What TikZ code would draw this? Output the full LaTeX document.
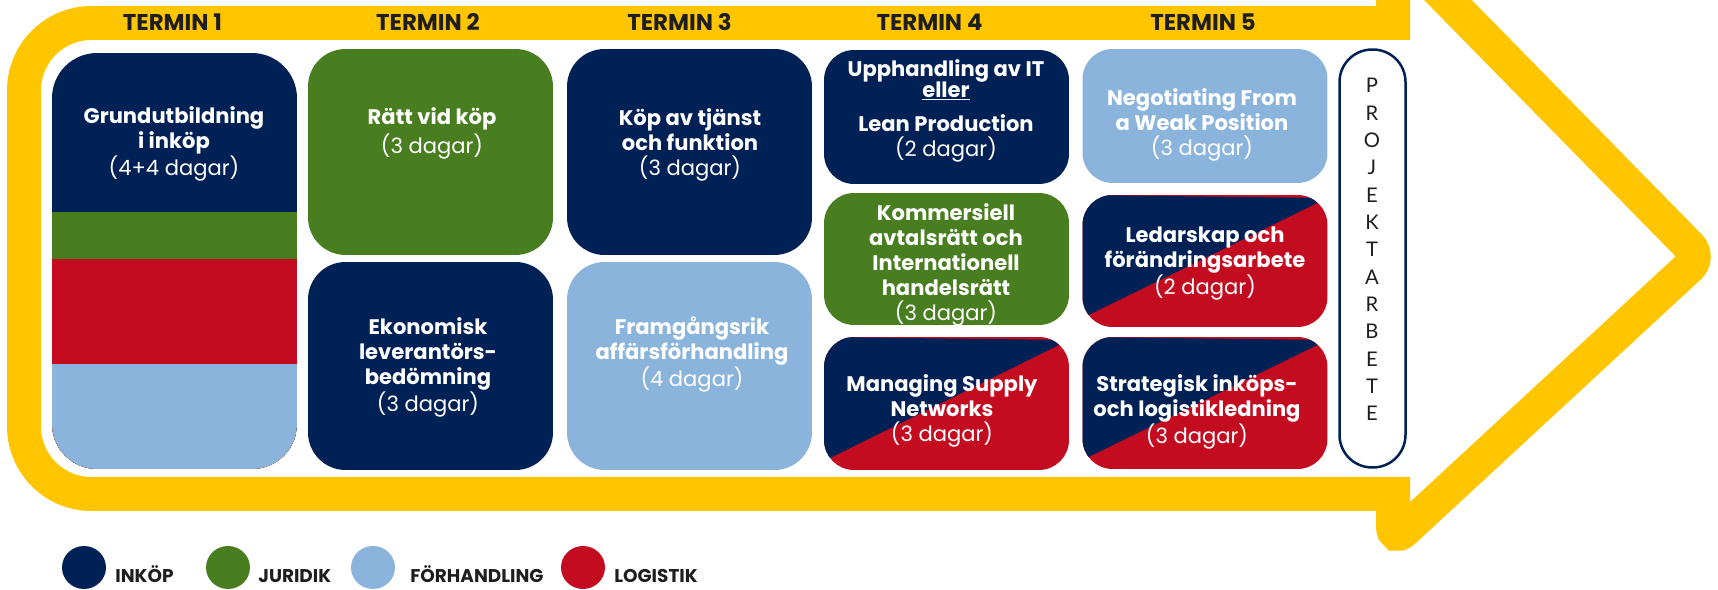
\documentclass[tikz,border=0pt]{standalone}
\usepackage{fontspec}
\setmainfont{Poppins}
\newfontfamily\bokstavfont{Lato}
\usetikzlibrary{shapes.geometric}

\definecolor{inkop}{RGB}{0,33,85}
\definecolor{juridik}{RGB}{72,126,32}
\definecolor{forhandling}{RGB}{139,180,220}
\definecolor{logistik}{RGB}{196,12,33}
\definecolor{pilgul}{RGB}{255,198,0}
\definecolor{textgra}{RGB}{30,30,30}

\tikzset{
  kurs/.style={rounded corners=0.75cm, minimum width=4.9cm, inner sep=0pt},
  liten/.style={kurs, rounded corners=0.6cm},
  delad/.style={fill=logistik, path picture={
      \fill[inkop, sharp corners] ([yshift=0.18cm]path picture bounding box.south west)
        -- ([yshift=-0.06cm]path picture bounding box.north east)
        -- (path picture bounding box.north west) -- cycle;}},
  kurstext/.style={text=white, align=center, inner sep=0pt, anchor=north,
    font=\bfseries\fontsize{12}{14.2}\selectfont},
  rubrik/.style={anchor=base, text=textgra, inner sep=0pt,
    font=\bfseries\fontsize{13}{15}\selectfont},
  bokstav/.style={anchor=base, text=textgra, inner sep=0pt,
    font=\bokstavfont\fontsize{11.5}{12}\selectfont},
  prick/.style={ellipse, minimum width=0.88cm, minimum height=0.86cm, inner sep=0pt},
  legtext/.style={anchor=base west, text=textgra, inner sep=0pt,
    font=\bfseries\fontsize{10.5}{12}\selectfont}
}

\begin{document}
\begin{tikzpicture}[x=0.02cm, y=-0.02cm]
    \useasboundingbox (0,0) rectangle (1718,590);
    \clip (0,0) rectangle (1718,590);

    % gul pil runt terminerna
    \draw[pilgul, line width=0.68cm, line join=miter]
        (1393,-56) [rounded corners=0.3cm] -- (1700,257) -- (1393,541)
        [sharp corners] -- (1393,494) [rounded corners=1.35cm] -- (24,494) -- (24,23)
        [sharp corners] -- (1393,23) -- cycle;

    \foreach \n/\x in {1/172.5, 2/428, 3/679.5, 4/929.5, 5/1203}
        \node[rubrik] (termin\n) at (\x,31) {TERMIN \n};

    % termin 1
    \node[kurs, rounded corners=0.9cm, minimum height=8.32cm, fill=inkop, path picture={
        \fill[juridik, sharp corners] ([yshift=-3.18cm]path picture bounding box.north west) rectangle (path picture bounding box.south east);
        \fill[logistik, sharp corners] ([yshift=-4.12cm]path picture bounding box.north west) rectangle (path picture bounding box.south east);
        \fill[forhandling, sharp corners] ([yshift=-6.22cm]path picture bounding box.north west) rectangle (path picture bounding box.south east);
      }] (grund) at (174.5,261) {};

    % termin 2 och 3
    \node[kurs, minimum height=4.12cm, fill=juridik] (ratt) at (430.5,152) {};
    \node[kurs, minimum height=4.16cm, fill=inkop] (ekon) at (430.5,366) {};
    \node[kurs, minimum height=4.12cm, fill=inkop] (kop) at (689.5,152) {};
    \node[kurs, minimum height=4.16cm, fill=forhandling] (framg) at (689.5,366) {};

    % termin 4 och 5
    \node[liten, minimum height=2.68cm, fill=inkop] (upph) at (946.5,117) {};
    \node[liten, minimum height=2.64cm, fill=juridik] (komm) at (946.5,259) {};
    \node[liten, minimum height=2.66cm, delad] (msn) at (946.5,403.5) {};
    \node[liten, minimum height=2.68cm, fill=forhandling] (nego) at (1205,116) {};
    \node[liten, minimum height=2.64cm, delad] (ledar) at (1205,261) {};
    \node[liten, minimum height=2.64cm, delad] (strat) at (1205,403) {};

    \node[draw=inkop, line width=0.05cm, rounded corners=0.65cm, fill=white,
        minimum width=1.32cm, minimum height=8.36cm] (proj) at (1372.5,258.5) {};
    \foreach \b [count=\i from 0] in {P,R,O,J,E,K,T,A,R,B,E,T,E}
        \node[bokstav] (bokstav\i) at (1372,93+27.33*\i) {\b};

    \node[kurstext] (t-grund) at (174,105.5) {\strut Grundutbildning\\i inköp\\{\mdseries (4+4 dagar)}};
    \node[kurstext] (t-ratt) at (432,106.5) {\strut Rätt vid köp\\{\mdseries (3 dagar)}};
    \node[kurstext] (t-ekon) at (428,316.5) {\strut Ekonomisk\\leverantörs-\\bedömning\\{\mdseries (3 dagar)}};
    \node[kurstext] (t-kop) at (690,107.5) {\strut Köp av tjänst\\och funktion\\{\mdseries (3 dagar)}};
    \node[kurstext] (t-framg) at (692,316.5) {\strut Framgångsrik\\affärsförhandling\\{\mdseries (4 dagar)}};
    \node[kurstext] (t-upph) at (946,58.5) {\strut Upphandling av IT\\[-2.3pt]\underline{eller}\\[5.1pt]Lean Production\\{\mdseries (2 dagar)}};
    \node[kurstext] (t-komm) at (946,202.5) {\strut Kommersiell\\avtalsrätt och\\Internationell\\handelsrätt\\{\mdseries (3 dagar)}};
    \node[kurstext] (t-msn) at (942,373.5) {\strut Managing Supply\\Networks\\{\mdseries (3 dagar)}};
    \node[kurstext] (t-nego) at (1202,87.5) {\strut Negotiating From\\a Weak Position\\{\mdseries (3 dagar)}};
    \node[kurstext] (t-ledar) at (1205,224.5) {\strut Ledarskap och\\förändringsarbete\\{\mdseries (2 dagar)}};
    \node[kurstext] (t-strat) at (1197,373.5) {\strut Strategisk inköps-\\och logistikledning\\{\mdseries (3 dagar)}};

    % färgförklaring
    \node[prick, fill=inkop] (p-inkop) at (84,567.5) {};
    \node[legtext] (l-inkop) at (115,583) {INKÖP};
    \node[prick, fill=juridik] (p-juridik) at (228,567.5) {};
    \node[legtext] (l-juridik) at (258,583) {JURIDIK};
    \node[prick, fill=forhandling] (p-forh) at (373,567.5) {};
    \node[legtext] (l-forh) at (410,583) {FÖRHANDLING};
    \node[prick, fill=logistik] (p-logistik) at (583,567.5) {};
    \node[legtext] (l-logistik) at (614,583) {LOGISTIK};
\end{tikzpicture}
\end{document}
